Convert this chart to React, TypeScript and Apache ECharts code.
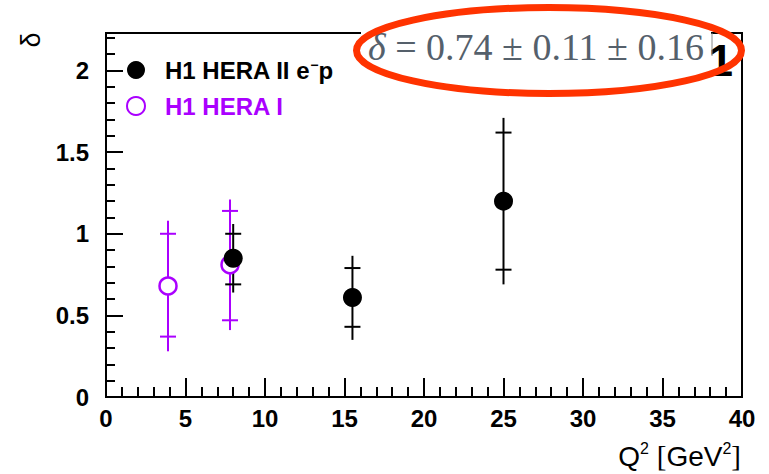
import React, { useEffect, useRef } from "react";
import * as echarts from "echarts";

// ---- data ----
const xTickLabels = ["0", "5", "10", "15", "20", "25", "30", "35", "40"];
const yTickLabels = ["0", "0.5", "1", "1.5", "2"];

const heraIIName = "H1 HERA II e-p";
const heraIIX = [8.0, 15.5, 25.0];
const heraIIY = [0.85, 0.61, 1.2];
const heraIIStatLow = [0.69, 0.43, 0.78];
const heraIIStatHigh = [1.0, 0.79, 1.62];
const heraIITotLow = [0.64, 0.35, 0.69];
const heraIITotHigh = [1.06, 0.865, 1.71];

const heraIName = "H1 HERA I";
const heraIX = [3.9, 7.8];
const heraIY = [0.68, 0.81];
const heraIStatLow = [0.37, 0.47];
const heraIStatHigh = [1.0, 1.14];
const heraITotLow = [0.28, 0.41];
const heraITotHigh = [1.08, 1.21];

const resultSymbol = "δ";
const resultValue = " = 0.74 ± 0.11 ± 0.16";

const PURPLE = "#aa00ff";
const SANS = "'Liberation Sans', Arial, Helvetica, sans-serif";
const SERIF = "'Liberation Serif', 'Times New Roman', serif";

function errBarData(xs: number[], tl: number[], th: number[], sl: number[], sh: number[]) {
  return xs.map((x, i) => [x, tl[i], th[i], sl[i], sh[i]]);
}

function makeErrRender(color: string) {
  return (params: any, api: any) => {
    const x = api.value(0);
    const t1 = api.coord([x, api.value(1)]);
    const t2 = api.coord([x, api.value(2)]);
    const s1 = api.coord([x, api.value(3)]);
    const s2 = api.coord([x, api.value(4)]);
    const hw = 8;
    const st = { stroke: color, lineWidth: 2 };
    return {
      type: "group",
      children: [
        { type: "line", shape: { x1: t1[0], y1: t1[1], x2: t2[0], y2: t2[1] }, style: st },
        { type: "line", shape: { x1: s1[0] - hw, y1: s1[1], x2: s1[0] + hw, y2: s1[1] }, style: st },
        { type: "line", shape: { x1: s2[0] - hw, y1: s2[1], x2: s2[0] + hw, y2: s2[1] }, style: st },
      ],
    };
  };
}

export default function App() {
  const ref = useRef<HTMLDivElement>(null);

  useEffect(() => {
    if (!ref.current) return;
    const chart = echarts.init(ref.current, null, { renderer: "svg" });

    const option: any = {
      animation: false,
      backgroundColor: "#ffffff",
      grid: {
        left: 106,
        right: 27,
        top: 33,
        bottom: 77,
        show: true,
        borderColor: "#000",
        borderWidth: 2,
        backgroundColor: "transparent",
        containLabel: false,
        outerBoundsMode: "none",
      },
      legend: {
        orient: "vertical",
        left: 126,
        top: 58,
        padding: 0,
        itemGap: 12,
        itemWidth: 48,
        itemHeight: 18,
        selectedMode: false,
        formatter: (name: string) =>
          name === heraIIName ? "{n|H1 HERA II e}{s|−}{n|p}" : name,
        textStyle: {
          fontFamily: SANS,
          fontSize: 24,
          fontWeight: "bold",
          lineHeight: 24,
          rich: {
            n: { fontFamily: SANS, fontSize: 24, fontWeight: "bold", lineHeight: 24, color: "#000", verticalAlign: "bottom" },
            s: { fontFamily: SANS, fontSize: 14, fontWeight: "bold", lineHeight: 24, color: "#000", verticalAlign: "top" },
          },
        },
        data: [
          { name: heraIIName, textStyle: { color: "#000" } },
          { name: heraIName, textStyle: { color: PURPLE } },
        ],
      },
      xAxis: {
        type: "value",
        min: 0,
        max: 40,
        interval: 5,
        axisLine: { show: true, lineStyle: { color: "#000", width: 2 } },
        axisTick: { show: true, inside: true, length: 19, lineStyle: { color: "#000", width: 2 } },
        minorTick: { show: true, splitNumber: 5, length: 10, lineStyle: { color: "#000", width: 2 } },
        splitLine: { show: false },
        axisLabel: {
          margin: 9,
          color: "#000",
          fontFamily: SANS,
          fontWeight: "bold",
          fontSize: 24,
          formatter: (v: number) => xTickLabels[Math.round(v / 5)] ?? "",
        },
      },
      yAxis: [
        {
          type: "value",
          min: 0,
          max: 2.23,
          interval: 0.5,
          axisLine: { show: true, lineStyle: { color: "#000", width: 2 } },
          axisTick: { show: true, inside: true, length: 17, lineStyle: { color: "#000", width: 2 } },
          splitLine: { show: false },
          axisLabel: {
            margin: 17,
            color: "#000",
            fontFamily: SANS,
            fontWeight: "bold",
            fontSize: 24,
            showMaxLabel: false,
            formatter: (v: number) => {
              const k = Math.round(v / 0.5);
              return Math.abs(k * 0.5 - v) < 1e-6 ? yTickLabels[k] ?? "" : "";
            },
          },
        },
        {
          type: "value",
          min: 0,
          max: 2.23,
          interval: 0.1,
          position: "left",
          axisLine: { show: false },
          axisTick: { show: true, inside: true, length: 9, lineStyle: { color: "#000", width: 2 } },
          splitLine: { show: false },
          axisLabel: { show: false },
        },
      ],
      series: [
        {
          name: heraIName + " err",
          type: "custom",
          renderItem: makeErrRender(PURPLE),
          encode: { x: 0, y: [1, 2] },
          data: errBarData(heraIX, heraITotLow, heraITotHigh, heraIStatLow, heraIStatHigh),
        },
        {
          name: heraIName,
          type: "scatter",
          symbol: "circle",
          symbolSize: 17,
          itemStyle: { color: "#ffffff", borderColor: PURPLE, borderWidth: 2.5, opacity: 1 },
          data: heraIX.map((x, i) => [x, heraIY[i]]),
        },
        {
          name: heraIIName + " err",
          type: "custom",
          renderItem: makeErrRender("#000"),
          encode: { x: 0, y: [1, 2] },
          data: errBarData(heraIIX, heraIITotLow, heraIITotHigh, heraIIStatLow, heraIIStatHigh),
        },
        {
          name: heraIIName,
          type: "scatter",
          symbol: "circle",
          symbolSize: 19,
          itemStyle: { color: "#000", opacity: 1 },
          data: heraIIX.map((x, i) => [x, heraIIY[i]]),
        },
      ],
      graphic: [
        {
          type: "text",
          x: 31,
          y: 40,
          rotation: Math.PI / 2,
          style: { text: "δ", fontFamily: SANS, fontSize: 27, fill: "#000", align: "center", verticalAlign: "middle" },
        },
        {
          type: "text",
          right: 28,
          top: 440,
          style: {
            text: "{a|Q}{s|2}{a| }{b|[}{a|GeV}{s|2}{b|]}",
            rich: {
              a: { fontFamily: SANS, fontSize: 28, lineHeight: 30, fill: "#000", verticalAlign: "bottom" },
              b: { fontFamily: SERIF, fontSize: 29, lineHeight: 30, fill: "#000", verticalAlign: "bottom" },
              s: { fontFamily: SANS, fontSize: 16, lineHeight: 30, fill: "#000", verticalAlign: "top" },
            },
          },
        },
        {
          type: "rect",
          shape: { x: 361, y: 20, width: 350, height: 52 },
          style: { fill: "#ffffff" },
        },
        {
          type: "text",
          x: 733,
          y: 60,
          style: { text: "1", fontFamily: SANS, fontWeight: "bold", fontSize: 44, fill: "#000", align: "right", verticalAlign: "middle" },
        },
        {
          type: "line",
          shape: { x1: 712, y1: 33, x2: 712, y2: 56 },
          style: { stroke: "#888", lineWidth: 1 },
        },
        {
          type: "text",
          x: 368,
          y: 47,
          style: {
            text: "{i|" + resultSymbol + "}{r|" + resultValue + "}",
            align: "left",
            verticalAlign: "middle",
            rich: {
              i: { fontFamily: SERIF, fontStyle: "italic", fontSize: 38, lineHeight: 40, fill: "#55606b" },
              r: { fontFamily: SERIF, fontSize: 38, lineHeight: 40, fill: "#55606b" },
            },
          },
        },
        {
          type: "ellipse",
          shape: { cx: 549, cy: 50.5, rx: 192.5, ry: 43 },
          style: { fill: "none", stroke: "#ff3300", lineWidth: 7 },
        },
      ],
    };

    chart.setOption(option);
    return () => chart.dispose();
  }, []);

  return (
    <div
      ref={ref}
      style={{ position: "absolute", left: 0, top: 0, width: 769, height: 474 }}
    />
  );
}
